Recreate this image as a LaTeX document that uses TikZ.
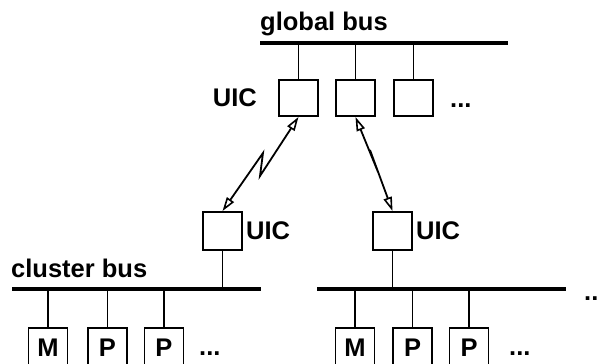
\documentclass[tikz,border=0pt]{standalone}
\usepackage{fontspec}
\setmainfont{Liberation Sans}
\usetikzlibrary{arrows.meta}
\newcommand\labfont{\fontsize{25.5}{29}\selectfont\bfseries}
\tikzset{
  box/.style={draw, line width=1.9pt, minimum width=39pt, minimum height=36pt, inner sep=0pt, font=\labfont},
  lowbox/.style={box, minimum height=38pt},
  pbox/.style={box, minimum height=40pt},
  lbl/.style={inner sep=0pt, font=\labfont},
  bus/.style={line width=3.8pt},
  wire/.style={line width=1.3pt},
  tipopen/.tip={Triangle[open,length=14pt,width=8.5pt,line width=1.6pt]},
  link/.style={line width=1.8pt, tipopen-tipopen, line join=miter},
}
\begin{document}
\begin{tikzpicture}[x=1pt,y=-1pt]
\useasboundingbox (0,0) rectangle (597,364);
\clip (0,0) rectangle (597,364);

% global bus
\coordinate (gbL) at (260,43);
\coordinate (gbR) at (508,43);
\draw[bus] (gbL) -- (gbR);
\node[lbl, anchor=base west] (gbt) at (260,30) {global bus};

\node[box] (u1) at (298.5,98) {};
\node[box] (u2) at (355.5,98) {};
\node[box] (u3) at (413.5,98) {};
\node[lbl, anchor=east] (uict) at (257,98) {UIC};
\node[lbl, anchor=base west] (gdots) at (450,107) {...};
\foreach \b in {u1,u2,u3} \draw[wire] (\b.north) -- (\b.north |- gbL);

% lower UICs
\node[lowbox] (cl) at (222.5,231) {};
\node[lowbox] (cr) at (392.5,231) {};
\node[lbl, anchor=west] (clt) at (246,231) {UIC};
\node[lbl, anchor=west] (crt) at (416,231) {UIC};

% links
\draw[link] (u1.south) -- (260,176) -- (263,153) -- (cl.north);
\draw[link] (u2.south) -- (378,172) -- (370,150) -- (cr.north);

% cluster buses
\coordinate (lbL) at (12,289);
\coordinate (lbR) at (261,289);
\coordinate (rbL) at (317,289);
\coordinate (rbR) at (566,289);
\draw[bus] (lbL) -- (lbR);
\draw[bus] (rbL) -- (rbR);
\node[lbl, anchor=base west] (cbt) at (11,277) {cluster bus};
\node[lbl, anchor=base west] (rdots) at (584,300) {..};
\draw[wire] (cl.south) -- (cl.south |- lbL);
\draw[wire] (cr.south) -- (cr.south |- rbL);

% processors / memory
\node[pbox] (m1) at (48,348) {M};
\node[pbox] (p1) at (107.5,348) {P};
\node[pbox] (p2) at (164,348) {P};
\node[pbox] (m2) at (355,348) {M};
\node[pbox] (p3) at (412.5,348) {P};
\node[pbox] (p4) at (469,348) {P};
\foreach \b in {m1,p1,p2} \draw[wire] (\b.north) -- (\b.north |- lbL);
\foreach \b in {m2,p3,p4} \draw[wire] (\b.north) -- (\b.north |- rbL);
\node[lbl, anchor=base west] (ldots) at (199,355) {...};
\node[lbl, anchor=base west] (rdots2) at (509,355) {...};
\end{tikzpicture}
\end{document}
